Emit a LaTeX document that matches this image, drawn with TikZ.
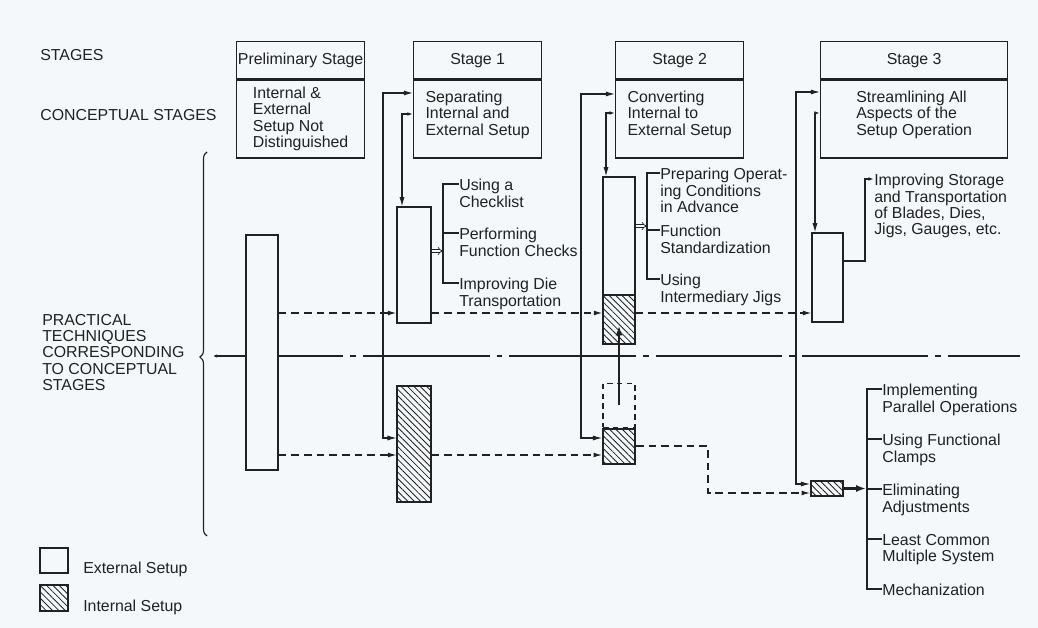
\documentclass[tikz,border=0pt]{standalone}
\usepackage{fontspec}
\setmainfont{Liberation Sans}
\usetikzlibrary{arrows.meta}
\usetikzlibrary{patterns.meta}
\usetikzlibrary{decorations.pathreplacing}
\definecolor{ink}{rgb}{0.13, 0.13, 0.13}
\definecolor{paper}{rgb}{0.955, 0.972, 0.982}
\tikzstyle{every node}=[inner sep=0pt, text=ink, font=\fontsize{11.3}{11.6}\selectfont]
\tikzset{
  stagetitle/.style={rectangle, draw=ink, line width=0.9pt, minimum height=0.925cm, anchor=north west},
  stagebody/.style={rectangle, draw=ink, line width=0.9pt, minimum height=1.95cm, align=left, anchor=north},
  extbox/.style={rectangle, draw=ink, line width=0.9pt, fill=paper},
  intbox/.style={rectangle, draw=ink, line width=1.3pt, pattern={Lines[angle=-45, distance=3.2pt, line width=0.6pt]}, pattern color=ink},
  ghostbox/.style={rectangle, draw=ink, line width=0.9pt, dash pattern=on 4pt off 3pt},
  tag/.style={anchor=north west, align=left},
  item/.style={anchor=north west, align=left},
  link/.style={draw=ink, line width=0.8pt},
  arr/.style={link, -{Latex[length=6pt, width=3.4pt]}},
  smallarr/.style={link, -{Latex[length=4pt, width=2.6pt]}},
  biarr/.style={link, {Latex[length=6.5pt, width=3.6pt]}-{Latex[length=6.5pt, width=3.6pt]}},
  halfarr/.style={link, {Latex[length=4pt, width=2.6pt]}-{Latex[length=6.5pt, width=3.6pt]}},
  dasharr/.style={arr, dash pattern=on 5.5pt off 3.5pt},
  implies/.style={draw=ink, double=paper, double distance=1.4pt, line width=0.5pt, -{Implies}},
  fatarr/.style={draw=ink, line width=1.8pt, -{Latex[length=7pt, width=5pt]}},
  centreline/.style={link, dash pattern=on 90pt off 5pt on 4pt off 5pt, {Latex[length=3pt, width=2.5pt]}-},
}

\begin{document}
\begin{tikzpicture}[x=0.025cm, y=-0.025cm]
\fill[paper] (0,0) rectangle (1038,628);
\useasboundingbox (0,0) rectangle (1038,628);

% row headings
\node[tag] (hStages) at (40,49) {STAGES};
\node[tag] (hConcept) at (40,109) {CONCEPTUAL STAGES};
\node[tag] (hPractical) at (42,314) {PRACTICAL\\TECHNIQUES\\CORRESPONDING\\TO CONCEPTUAL\\STAGES};
\draw[link, decorate, decoration={brace, amplitude=5pt, aspect=0.466}] (207,536) -- (207,152);

% centre line
\coordinate (axisL) at (213,356);
\coordinate (axisR) at (1020,356);
\draw[centreline] (axisL) -- (axisR);

% stages
\node[stagetitle, minimum width=3.2cm] (t0) at (236,41) {\makebox[0pt]{Preliminary Stage}};
\node[stagebody, minimum width=3.2cm] (b0) at (t0.south) {Internal \&\\External\\Setup Not\\Distinguished};
\node[stagetitle, minimum width=3.2cm] (t1) at (413,41) {Stage 1};
\node[stagebody, minimum width=3.2cm, text depth=8.5pt] (b1) at (t1.south) {Separating\\Internal and\\External Setup};
\node[stagetitle, minimum width=3.2cm] (t2) at (615,41) {Stage 2};
\node[stagebody, minimum width=3.2cm, text depth=8.5pt] (b2) at (t2.south) {Converting\\Internal to\\External Setup};
\node[stagetitle, minimum width=4.675cm] (t3) at (820,41) {Stage 3};
\node[stagebody, minimum width=4.675cm, text depth=8.5pt] (b3) at (t3.south) {Streamlining All\\Aspects of the\\Setup Operation};

% setup blocks
\node[extbox, minimum width=0.8cm, minimum height=5.875cm] (e0) at (262,352.5) {};
\node[extbox, minimum width=0.85cm, minimum height=2.9cm] (s1Ext) at (414,265) {};
\node[intbox, minimum width=0.85cm, minimum height=2.9cm] (s1Int) at (414,444) {};
\node[extbox, minimum width=0.8cm, minimum height=4.175cm] (s2Ext) at (619,260.5) {};
\node[intbox, minimum width=0.8cm, minimum height=1.225cm, anchor=south] (s2Hatch) at (s2Ext.south) {};
\node[intbox, minimum width=0.8cm, minimum height=0.875cm] (s2Int) at (619,446.5) {};
\node[ghostbox, minimum width=0.8cm, minimum height=1.1cm, anchor=south] (s2Ghost) at (s2Int.north) {};
\node[extbox, minimum width=0.775cm, minimum height=2.225cm] (s3Ext) at (827.5,277.5) {};
\node[intbox, minimum width=0.8cm, minimum height=0.375cm] (s3Int) at (827,488.5) {};

% techniques
\node[item] (i1a) at (459,179) {Using a\\Checklist};
\node[item] (i1b) at (459,228) {Performing\\Function Checks};
\node[item] (i1c) at (459,278) {Improving Die\\Transportation};
\node[item] (i2a) at (660,168) {Preparing Operat-\\ing Conditions\\in Advance};
\node[item] (i2b) at (660,225) {Function\\Standardization};
\node[item] (i2c) at (660,274) {Using\\Intermediary Jigs};
\node[item] (i3a) at (874,174) {Improving Storage\\and Transportation\\of Blades, Dies,\\Jigs, Gauges, etc.};
\node[item] (m1) at (882,384) {Implementing\\Parallel Operations};
\node[item] (m2) at (882,434) {Using Functional\\Clamps};
\node[item] (m3) at (882,484) {Eliminating\\Adjustments};
\node[item] (m4) at (882,534) {Least Common\\Multiple System};
\node[item] (m5) at (882,584) {Mechanization};

% legend
\node[extbox, minimum width=0.7cm, minimum height=0.625cm] (keyExt) at (54,560.5) {};
\node[intbox, minimum width=0.7cm, minimum height=0.65cm] (keyInt) at (54,598) {};
\node[anchor=base west] (keyExtTxt) at (83,573) {External Setup};
\node[anchor=base west] (keyIntTxt) at (83,611) {Internal Setup};

% external setup track
\draw[dasharr] (e0.east |- 0,313) -- (s1Ext.west |- 0,313);
\draw[dasharr] (s1Ext.east |- 0,313) -- (s2Ext.west |- 0,313);
\draw[dasharr] (s2Ext.east |- 0,313) -- (s3Ext.west |- 0,313);
% internal setup track
\draw[dasharr] (e0.east |- 0,455) -- (s1Int.west |- 0,455);
\draw[dasharr] (s1Int.east |- 0,455) -- (s2Int.west |- 0,455);
\draw[dasharr] (s2Int.east |- 0,446) -| (708,493) -- (s3Int.west |- 0,493);

% feeds from the stages
\coordinate (s1bus) at (383,93);
\coordinate (s2bus) at (581,94);
\coordinate (s3bus) at (796,92);
\draw[biarr] (b1.west |- s1bus) -- (s1bus) |- (s1Int.west |- 0,438);
\draw[biarr] (b2.west |- s2bus) -- (s2bus) |- (s2Int.west |- 0,438);
\draw[biarr] (b3.west |- s3bus) -- (s3bus) |- (s3Int.west |- 0,484);
\draw[halfarr] (b1.west |- 0,114) -| (s1Ext.north -| 402,0);
\draw[halfarr] (b2.west |- 0,113) -| (s2Ext.north -| 606,0);
\draw[halfarr] (b3.west |- 0,113) -| (s3Ext.north -| 815,0);
\draw[fatarr] (s2Ghost.center) -- ([yshift=-0.16cm]s2Hatch.center);

% brackets
\draw[implies] (s1Ext.east |- 0,251) -- (443,251);
\draw[link] (i1a.north west |- 0,184) -| (443,283) -- (i1c.north west |- 0,283);
\draw[link] (443,233) -- (i1b.north west |- 0,233);
\draw[implies] (s2Ext.east |- 0,226) -- (647,226);
\draw[link] (i2a.north west |- 0,173) -| (647,279) -- (i2c.north west |- 0,279);
\draw[link] (647,230) -- (i2b.north west |- 0,230);
\draw[smallarr] (s3Ext.east |- 0,261) -| (865,179) -- (i3a.north west |- 0,179);
\draw[fatarr] (s3Int.east) -- (866,488.5);
\draw[link] (m1.north west |- 0,389) -| (867,589) -- (m5.north west |- 0,589);
\foreach \k/\y in {m2/439, m3/489, m4/539}
  \draw[link] (867,\y) -- (\k.north west |- 0,\y);

\end{tikzpicture}
\end{document}
